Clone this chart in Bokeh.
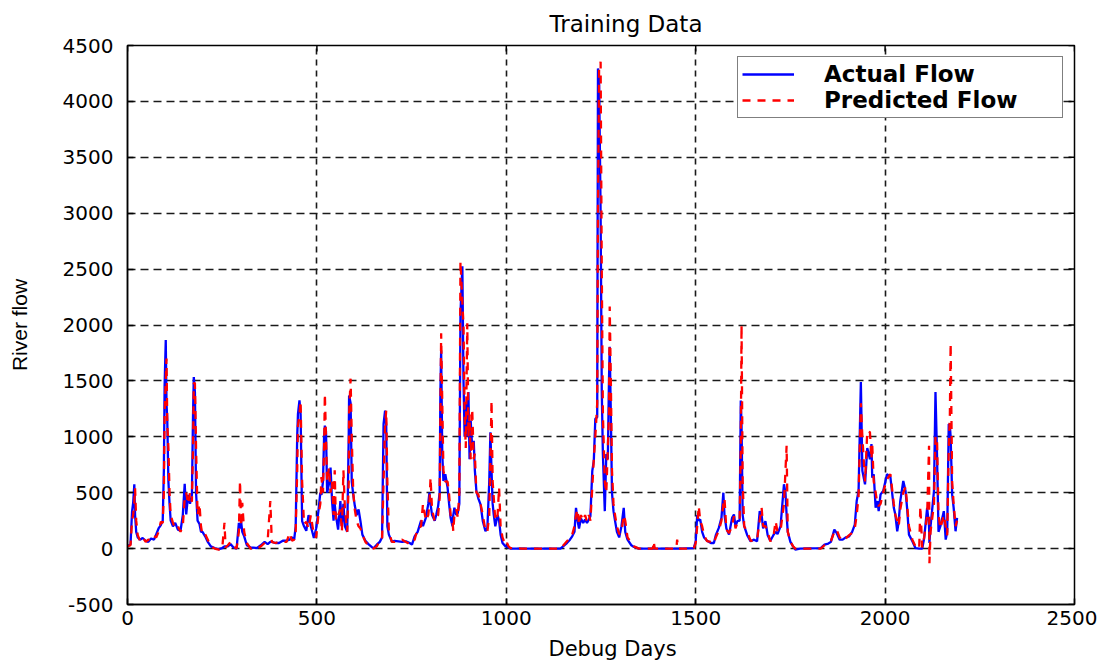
from bokeh.plotting import figure
from bokeh.models import Range1d, FixedTicker, Legend, LegendItem, Title
from bokeh.embed import file_html
from bokeh.resources import INLINE

# ---------------- data ----------------
days = [
    0, 8, 12, 15, 18, 20, 23, 27, 33, 40,
    48, 55, 62, 70, 76, 82, 88, 93, 96, 98,
    101, 103, 105, 108, 111, 114, 120, 126, 133, 140,
    146, 151, 155, 160, 165, 170, 173, 175, 178, 181,
    185, 190, 194, 198, 205, 212, 220, 230, 241, 250,
    256, 259, 265, 272, 280, 288, 294, 297, 300, 303,
    308, 315, 325, 342, 352, 362, 370, 377, 381, 390,
    400, 410, 420, 428, 434, 440, 444, 448, 450, 454,
    457, 461,
    466, 472, 478, 484, 492, 498, 504, 509, 512, 516,
    519, 521, 524, 527, 532, 536, 540, 544, 547, 550,
    556, 562, 566, 570, 574, 580, 584, 585, 589, 592,
    596, 600, 605, 610, 615, 620, 628, 636, 646, 650,
    658, 666, 672, 676, 680, 683, 686, 690, 698, 705,
    715, 725, 735, 745, 751, 758, 766, 775, 780, 788,
    794, 797, 800, 804, 811, 815, 820, 824, 826, 828,
    831, 834, 839, 845, 849, 853, 858, 860, 863, 868,
    872, 876,
    879, 884, 887, 890, 893, 897, 900, 903, 906, 910,
    914, 917, 921, 926, 932, 938, 945, 950, 955, 958,
    961, 964, 967, 971, 977, 981, 985, 990, 998, 1002,
    1006, 1011, 1040, 1080, 1143, 1160, 1168, 1174, 1180, 1184,
    1188, 1192, 1197, 1203, 1208, 1213, 1218, 1222, 1227, 1231,
    1235, 1240, 1242, 1245, 1249, 1252, 1255, 1260, 1264, 1268,
    1271, 1273, 1276, 1279, 1283, 1287, 1292, 1298, 1304, 1310,
    1314, 1320, 1330, 1337, 1350, 1387, 1389, 1392, 1449, 1451,
    1454, 1495,
    1500, 1504, 1508, 1512, 1517, 1522, 1530, 1540, 1548, 1553,
    1561, 1568, 1573, 1576, 1581, 1588, 1596, 1601, 1605, 1610,
    1616, 1619, 1621, 1624, 1628, 1636, 1645, 1654, 1662, 1669,
    1674, 1678, 1684, 1690, 1697, 1705, 1711, 1716, 1724, 1733,
    1737, 1740, 1743, 1750, 1757, 1763, 1775, 1830,
    1840, 1850, 1857, 1866, 1872, 1880, 1888, 1896, 1905, 1913,
    1920, 1925, 1930, 1936, 1940, 1947, 1953, 1960, 1964, 1966,
    1970, 1975, 1980, 1983, 1988, 1995, 2001, 2005, 2014, 2019,
    2023, 2027, 2032, 2036, 2040, 2048, 2054, 2058, 2063, 2072,
    2080, 2090, 2093, 2098, 2103, 2111, 2116, 2117, 2120, 2129,
    2133, 2137, 2141, 2146, 2155, 2160, 2164, 2168, 2171, 2173,
    2177, 2181, 2186, 2190,
]

actual_flow = [
    20, 40, 330, 410, 575, 300, 150, 100, 80, 95,
    70, 60, 90, 80, 130, 180, 210, 250, 700, 1460,
    1865, 1300, 1150, 600, 400, 250, 200, 230, 170, 160,
    300, 580, 305, 480, 400, 480, 1200, 1535, 1400, 500,
    250, 220, 150, 150, 110, 60, 20, 5, -5, 5,
    20, 20, 20, 40, 10, 0, 230, 180, 240, 150,
    110, 30, 10, 5, 30, 60, 40, 60, 60, 50,
    50, 70, 70, 80, 100, 80, 200, 1000, 1205, 1325,
    1200, 245,
    200, 160, 300, 200, 95, 180, 335, 500, 480, 600,
    1000, 1100, 1050, 500, 580, 725, 425, 250, 400, 300,
    170, 425, 200, 400, 200, 150, 1000, 1370, 1300, 600,
    480, 385, 300, 350, 245, 125, 70, 40, 10, 5,
    35, 60, 100, 1115, 1235, 1100, 200, 125, 60, 70,
    65, 60, 65, 50, 35, 110, 150, 250, 200, 280,
    400, 500, 400, 300, 250, 300, 380, 500, 1400, 1775,
    845, 605, 665, 545, 400, 275, 200, 300, 365, 300,
    320, 400,
    2100, 2525, 1500, 1000, 1300, 1000, 1400, 800, 1145, 900,
    965, 700, 515, 450, 395, 245, 155, 185, 600, 1040,
    700, 400, 300, 200, 300, 250, 125, 50, 20, 20,
    10, 0, 0, 0, 0, 50, 80, 110, 150, 365,
    250, 180, 270, 230, 260, 230, 260, 290, 695, 785,
    1160, 1175, 4295, 4200, 3000, 1415, 845, 335, 845, 800,
    1500, 1805, 1200, 500, 335, 250, 150, 100, 200, 365,
    150, 80, 30, 15, 0, 0, 0, 0, 0, 0,
    0, 5,
    66, 300, 250, 260, 150, 100, 70, 50, 50, 120,
    185, 275, 500, 300, 180, 125, 275, 305, 200, 245,
    250, 1325, 1100, 300, 200, 120, 65, 80, 65, 335,
    300, 180, 245, 120, 70, 120, 150, 130, 200, 575,
    500, 300, 150, 60, 20, -10, 0, 5,
    35, 45, 60, 170, 140, 80, 80, 100, 110, 150,
    215, 425, 515, 1490, 695, 575, 900, 800, 935, 635,
    665, 365, 425, 335, 485, 515, 605, 665, 640, 485,
    365, 305, 155, 245, 425, 605, 515, 365, 125, 65,
    5, 0, 0, 0, 90, 365, 200, 50, 200, 515,
    1400, 845, 150, 200, 335, 80, 150, 1115, 1100, 1000,
    485, 365, 155, 275,
]

predicted_flow = [
    20, 30, 250, 300, 420, 540, 250, 120, 70, 100,
    60, 80, 70, 110, 100, 150, 240, 230, 500, 1200,
    1500, 1700, 1120, 900, 500, 300, 230, 180, 200, 150,
    200, 450, 500, 400, 500, 420, 900, 1480, 1480, 900,
    300, 400, 200, 120, 130, 80, 20, 0, -10, 0,
    230, 10, 30, 60, 20, 0, 150, 605, 200, 410,
    150, 50, 0, 0, 20, 50, 70, 425, 60, 50,
    60, 60, 60, 140, 70, 80, 150, 700, 1100, 1200,
    1320, 600,
    220, 240, 180, 300, 120, 100, 300, 400, 640, 500,
    900, 1385, 1000, 600, 725, 500, 600, 300, 700, 250,
    300, 350, 150, 700, 350, 150, 600, 1200, 1520, 1000,
    500, 350, 245, 200, 180, 125, 60, 30, 5, 0,
    20, 70, 80, 600, 1100, 1235, 600, 150, 60, 60,
    70, 80, 60, 40, 50, 80, 180, 200, 400, 250,
    300, 400, 635, 350, 245, 280, 300, 450, 1200, 1925,
    1300, 700, 600, 600, 485, 300, 250, 155, 300, 350,
    280, 500,
    2570, 2200, 2000, 1200, 900, 2015, 1000, 1200, 800, 1250,
    800, 850, 500, 485, 400, 300, 160, 150, 300, 800,
    1325, 600, 450, 250, 300, 545, 200, 100, 30, 50,
    20, 5, 0, 0, 0, 65, 100, 126, 200, 300,
    350, 215, 300, 250, 300, 240, 300, 250, 545, 800,
    1000, 1300, 3000, 4300, 4355, 2500, 1200, 600, 500, 900,
    1200, 2165, 1500, 700, 400, 300, 200, 130, 150, 300,
    250, 100, 50, 20, 0, 0, 65, 0, 0, 80,
    0, 0,
    50, 200, 380, 250, 200, 120, 66, 60, 45, 100,
    160, 250, 400, 450, 170, 140, 200, 290, 180, 230,
    245, 900, 2000, 600, 200, 150, 70, 70, 80, 250,
    365, 200, 200, 150, 65, 100, 245, 150, 160, 400,
    700, 920, 150, 65, 20, 0, 0, 0,
    30, 50, 70, 150, 170, 100, 70, 90, 120, 140,
    180, 300, 470, 1300, 1000, 600, 1055, 1040, 800, 935,
    600, 500, 400, 380, 400, 500, 580, 620, 665, 520,
    400, 300, 250, 200, 350, 500, 550, 400, 200, 80,
    20, 0, 380, 10, 100, 300, 920, -130, 150, 400,
    1000, 1000, 300, 180, 300, 200, 120, 900, 1200, 1835,
    600, 400, 200, 250,
]

x_ticks = [0, 500, 1000, 1500, 2000, 2500]
y_ticks = [-500, 0, 500, 1000, 1500, 2000, 2500, 3000, 3500, 4000, 4500]
x_lim = (0, 2500)
y_lim = (-500, 4500)

title_text = "Training Data"
x_label = "Debug Days"
y_label = "River flow"
series_names = ["Actual Flow", "Predicted Flow"]

FRAME_W, FRAME_H = 947, 559

# ---------------- figure ----------------
p = figure(
    frame_width=FRAME_W, frame_height=FRAME_H,
    x_range=Range1d(*x_lim), y_range=Range1d(*y_lim),
    output_backend="svg", toolbar_location=None,
    min_border_left=127, min_border_right=23, min_border_top=44, min_border_bottom=20,
)
p.background_fill_color = "white"
p.border_fill_color = "white"
p.outline_line_color = "black"
p.outline_line_width = 1.5

# title (top) and x label (bottom) as titles so they can be offset like the reference
p.add_layout(Title(text=title_text, align="left", offset=422, standoff=17,
                   text_font="DejaVu Sans", text_font_size="23px",
                   text_font_style="normal", text_color="black"), "above")
p.add_layout(Title(text=x_label, align="left", offset=421, standoff=14,
                   text_font="DejaVu Sans", text_font_size="21px",
                   text_font_style="normal", text_color="black"), "below")

tick_font = "DejaVu Sans"

xa = p.xaxis[0]
ya = p.yaxis[0]
xa.ticker = FixedTicker(ticks=x_ticks)
ya.ticker = FixedTicker(ticks=y_ticks)
ya.major_label_overrides = {t: str(t) for t in y_ticks}
for ax in (xa, ya):
    ax.major_tick_in = 6
    ax.major_tick_out = 0
    ax.minor_tick_line_color = None
    ax.axis_line_color = "black"
    ax.axis_line_width = 1.5
    ax.major_tick_line_color = "black"
    ax.major_tick_line_width = 1.5
    ax.major_label_text_font = tick_font
    ax.major_label_text_font_size = "20px"
    ax.major_label_text_color = "black"
    ax.axis_label_text_font_style = "normal"
    ax.axis_label_text_color = "black"

xa.major_label_standoff = 6

ya.axis_label = y_label
ya.axis_label_text_font = "Liberation Sans"
ya.axis_label_text_font_size = "21px"
ya.major_label_standoff = 14
ya.axis_label_standoff = 29

# inward ticks on the top and right edges (MATLAB box style), from the tick lists
tick_len_y = 6 * (y_lim[1] - y_lim[0]) / FRAME_H
tick_len_x = 6 * (x_lim[1] - x_lim[0]) / FRAME_W
p.segment(x0=x_ticks, y0=[y_lim[1]] * len(x_ticks),
          x1=x_ticks, y1=[y_lim[1] - tick_len_y] * len(x_ticks),
          line_color="black", line_width=1.5)
p.segment(x0=[x_lim[1]] * len(y_ticks), y0=y_ticks,
          x1=[x_lim[1] - tick_len_x] * len(y_ticks), y1=y_ticks,
          line_color="black", line_width=1.5)

# grid
for g in (p.xgrid[0], p.ygrid[0]):
    g.grid_line_color = "#1a1a1a"
    g.grid_line_width = 1.6
p.xgrid[0].grid_line_dash = "6 5"
p.ygrid[0].grid_line_dash = "8 5"
p.xgrid[0].ticker = FixedTicker(ticks=x_ticks)
p.ygrid[0].ticker = FixedTicker(ticks=y_ticks)

# series
r_act = p.line(days, actual_flow, line_color="#0000FF", line_width=2.3)
r_pred = p.line(days, predicted_flow, line_color="#FF0000", line_width=2.3, line_dash="8 7")

legend = Legend(items=[LegendItem(label=series_names[0], renderers=[r_act]),
                       LegendItem(label=series_names[1], renderers=[r_pred])])
legend.location = "top_right"
legend.margin = 11
legend.padding = 4
legend.spacing = 0
legend.glyph_width = 52
legend.glyph_height = 24
legend.label_height = 24
legend.label_width = 234
legend.label_standoff = 30
legend.label_text_font = "DejaVu Sans"
legend.label_text_font_style = "bold"
legend.label_text_font_size = "23px"
legend.label_text_color = "black"
legend.border_line_color = "black"
legend.border_line_width = 1.5
legend.background_fill_color = "white"
legend.background_fill_alpha = 1.0
p.add_layout(legend, "center")

open("out.html", "w").write(file_html(p, INLINE))
